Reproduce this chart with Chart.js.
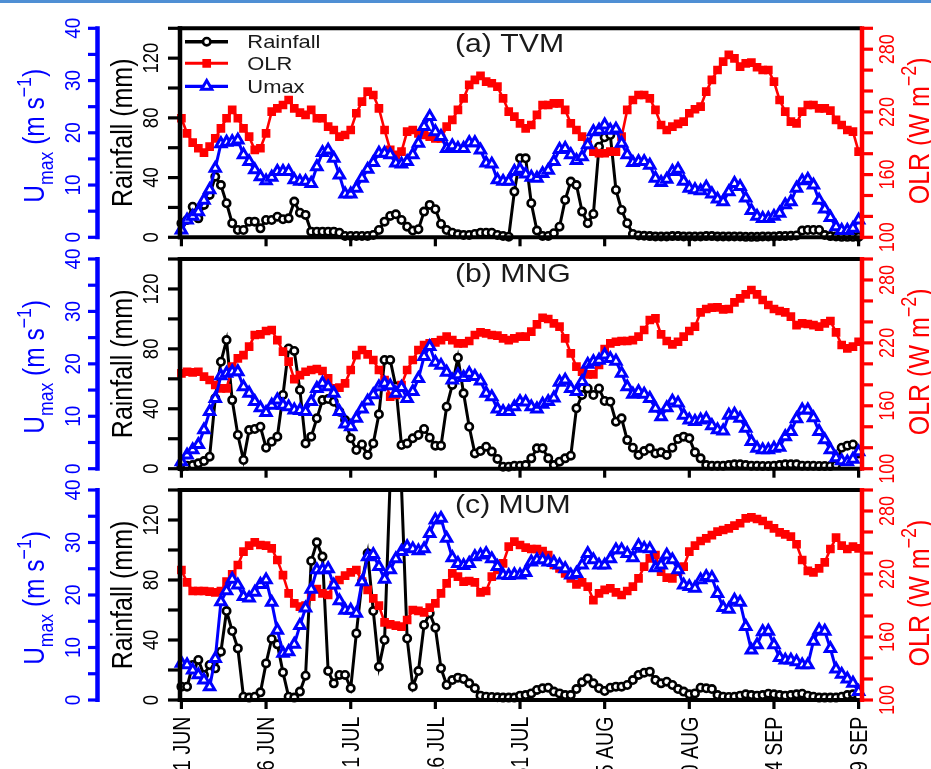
<!DOCTYPE html>
<html>
<head>
<meta charset="utf-8">
<script src="https://cdn.jsdelivr.net/npm/chart.js@4.4.1/dist/chart.umd.min.js"></script>
<style>
  html, body { margin: 0; padding: 0; background: #fff; }
  #wrap { position: relative; width: 931px; height: 769px; overflow: hidden; background: #fff; }
  #wrap canvas { position: absolute; left: 0; top: 0; }
  #topline { position: absolute; left: 0; top: 0; width: 931px; height: 3px; background: #4f8fd4; }
</style>
</head>
<body>
<div id="wrap">
  <div id="topline"></div>
  <canvas id="pa" width="931" height="769" style="width:931px;height:769px"></canvas>
  <canvas id="pb" width="931" height="769" style="width:931px;height:769px"></canvas>
  <canvas id="pc" width="931" height="769" style="width:931px;height:769px"></canvas>
</div>
<script>
// daily values, 1 JUN (index 0) .. 29 SEP (index 120)
const xTickDays = [0, 15, 30, 45, 60, 75, 90, 105, 120]
const xTickLabels = ['1 JUN', '16 JUN', '1 JUL', '16 JUL', '31 JUL', '15 AUG', '30 AUG', '14 SEP', '29 SEP']

const rainTicks = [0, 20, 40, 60, 80, 100, 120, 140]
const rainLabels = [0, 40, 80, 120]
const umaxTicks = [0, 5, 10, 15, 20, 25, 30, 35, 40]
const umaxLabels = [0, 10, 20, 30, 40]
const olrTicks = [100, 120, 140, 160, 180, 200, 220, 240, 260, 280, 300]
const olrLabels = [100, 160, 220, 280]

const tvmRain = [
  9.4, 11.6, 20.5, 12.7, 21.7, 28.4, 40.6, 35.0, 22.8, 9.4,
  4.9, 4.9, 10.5, 10.5, 6.0, 11.6, 11.6, 13.8, 12.1, 12.7,
  23.9, 16.5, 15.0, 3.8, 3.8, 3.8, 3.8, 3.8, 3.1, 0.9,
  0.9, 0.9, 0.9, 0.9, 1.6, 4.9, 10.5, 14.3, 15.4, 11.6,
  7.1, 4.5, 5.4, 17.2, 21.7, 18.8, 8.9, 4.9, 3.1, 2.0,
  1.6, 1.6, 2.2, 3.1, 3.1, 3.1, 1.6, 0.9, 0.4, 30.6,
  52.9, 52.9, 22.8, 4.5, 0.9, 0.9, 2.7, 7.1, 25.0, 37.3,
  35.0, 17.2, 9.4, 15.6, 60.7, 67.0, 68.5, 31.7, 18.3, 9.4,
  2.2, 1.2, 1.0, 0.8, 0.5, 0.5, 0.5, 0.8, 0.8, 0.5,
  0.5, 0.5, 0.5, 0.8, 0.8, 0.5, 0.5, 0.5, 0.5, 0.5,
  0.3, 0.3, 0.3, 0.5, 0.5, 0.5, 0.8, 0.8, 1.0, 1.2,
  4.5, 4.9, 4.9, 4.9, 1.5, 0.8, 0.5, 0.3, 0.3, 0.3,
  0.3
]
const tvmOlr = [
  213.9, 199.5, 190.6, 185.2, 181.0, 186.8, 194.7, 204.3, 213.9, 221.9,
  213.9, 204.3, 196.3, 183.6, 185.2, 199.5, 220.3, 223.4, 226.6, 231.4,
  223.4, 219.3, 217.1, 221.9, 213.9, 213.9, 205.9, 202.7, 196.3, 197.9,
  202.7, 218.7, 229.8, 239.4, 236.2, 223.4, 202.7, 183.6, 178.8, 182.0,
  201.1, 202.7, 199.5, 197.9, 196.3, 194.7, 194.7, 205.9, 212.3, 221.9,
  233.0, 245.8, 250.6, 254.4, 249.0, 247.4, 244.2, 233.0, 220.3, 215.5,
  209.1, 204.3, 207.5, 217.1, 226.6, 226.6, 228.2, 228.2, 221.9, 209.1,
  202.7, 196.3, 188.4, 182.0, 180.4, 180.4, 182.0, 182.0, 196.3, 221.9,
  231.4, 236.2, 236.2, 233.0, 221.9, 207.5, 202.7, 205.9, 208.5, 210.7,
  218.7, 222.5, 225.0, 239.4, 250.6, 260.1, 268.1, 274.5, 271.3, 263.3,
  266.5, 267.1, 262.7, 260.1, 260.1, 249.0, 231.4, 220.3, 210.7, 209.1,
  220.3, 226.6, 226.6, 223.4, 223.4, 221.2, 212.3, 207.5, 202.7, 201.1,
  182.0
]
const tvmUmax = [
  1.4, 3.3, 4.0, 4.9, 7.1, 9.1, 13.2, 17.9, 18.2, 18.3,
  18.6, 15.8, 14.5, 12.9, 11.6, 10.8, 11.5, 12.6, 12.6, 12.6,
  11.0, 10.7, 10.7, 10.3, 13.5, 16.2, 16.7, 15.1, 11.9, 8.3,
  8.3, 9.4, 11.3, 13.0, 14.3, 16.1, 16.1, 15.8, 14.2, 14.0,
  14.5, 15.8, 18.0, 21.2, 23.1, 20.2, 19.3, 17.0, 17.5, 17.0,
  17.0, 18.1, 18.1, 16.7, 14.2, 14.0, 11.0, 10.7, 10.7, 12.6,
  13.0, 12.1, 11.5, 11.3, 12.2, 12.8, 14.5, 16.8, 17.0, 15.8,
  14.7, 15.4, 17.7, 20.2, 20.5, 21.5, 20.5, 20.7, 18.0, 15.8,
  14.3, 14.5, 14.5, 13.8, 11.3, 10.5, 11.1, 12.6, 13.0, 10.7,
  9.4, 9.1, 8.9, 9.6, 8.3, 7.3, 6.8, 8.7, 10.3, 9.7,
  7.5, 5.1, 4.0, 3.6, 3.6, 4.0, 4.6, 6.2, 6.8, 9.4,
  10.8, 11.1, 10.0, 7.1, 5.4, 3.8, 2.0, 1.3, 1.3, 1.7,
  3.3
]

const mngRain = [
  1.3, 2.0, 2.4, 3.6, 5.1, 8.0, 47.0, 71.4, 85.9, 45.8,
  22.5, 5.8, 25.8, 26.5, 28.0, 14.0, 18.0, 21.4, 49.2, 80.3,
  78.6, 52.5, 16.9, 21.4, 33.6, 45.8, 46.5, 44.7, 38.1, 32.5,
  20.3, 12.5, 16.2, 9.1, 16.9, 36.3, 72.6, 72.6, 54.8, 15.8,
  16.9, 20.3, 22.5, 26.5, 20.7, 15.4, 15.4, 41.4, 55.9, 74.1,
  50.3, 28.0, 10.2, 11.8, 14.7, 11.4, 6.5, 1.3, 1.3, 2.0,
  2.0, 2.4, 6.9, 13.6, 13.6, 6.9, 2.4, 4.7, 6.9, 8.7,
  40.3, 49.2, 53.6, 49.2, 53.6, 45.2, 44.7, 31.4, 33.6, 19.1,
  14.0, 9.1, 11.8, 13.6, 10.2, 10.9, 9.1, 14.0, 19.8, 21.4,
  20.3, 10.9, 6.9, 2.4, 2.0, 2.0, 2.0, 2.4, 2.9, 2.9,
  2.4, 2.0, 2.0, 1.8, 1.8, 2.0, 2.4, 2.9, 2.9, 2.9,
  2.0, 2.0, 2.0, 1.8, 1.8, 1.8, 2.4, 14.0, 15.4, 16.2,
  10.2
]
const mngOlr = [
  190.9, 192.5, 191.9, 192.5, 187.8, 184.6, 179.8, 176.6, 176.6, 197.3,
  205.2, 208.4, 216.4, 227.5, 228.1, 231.3, 232.3, 222.7, 211.6, 202.1,
  185.5, 189.3, 192.5, 194.1, 195.1, 193.2, 186.2, 176.6, 177.3, 181.4,
  194.1, 208.4, 213.2, 209.1, 203.7, 194.1, 184.6, 168.7, 170.3, 179.8,
  194.1, 203.7, 213.2, 218.0, 219.6, 220.5, 222.7, 225.9, 222.7, 219.6,
  219.6, 221.8, 227.5, 230.0, 229.1, 227.5, 226.9, 224.3, 222.7, 224.3,
  225.9, 225.9, 230.7, 237.7, 244.0, 242.8, 238.6, 235.5, 224.3, 210.0,
  197.3, 192.5, 190.0, 190.0, 198.9, 214.1, 219.6, 221.1, 221.8, 221.8,
  222.7, 225.9, 232.3, 241.8, 243.4, 228.1, 221.8, 218.6, 221.1, 225.9,
  231.3, 235.5, 249.1, 252.3, 253.6, 253.9, 252.0, 252.3, 258.7, 262.5,
  266.3, 270.4, 266.3, 260.9, 256.1, 252.3, 250.4, 249.1, 245.0, 237.0,
  238.6, 238.0, 237.0, 235.5, 238.6, 240.9, 230.0, 218.0, 214.8, 216.4,
  221.1
]
const mngUmax = [
  1.3, 2.6, 3.6, 4.6, 7.4, 10.9, 13.4, 17.7, 18.2, 18.5,
  18.5, 15.6, 14.4, 12.8, 11.6, 10.7, 12.1, 13.1, 12.1, 11.8,
  11.2, 11.1, 10.9, 12.8, 15.3, 16.3, 15.6, 14.4, 10.9, 8.5,
  8.0, 9.6, 11.4, 12.9, 14.1, 15.6, 16.3, 15.8, 14.4, 15.5,
  13.4, 14.7, 17.2, 21.4, 23.3, 20.3, 19.7, 18.4, 16.9, 17.9,
  17.4, 18.2, 17.6, 16.7, 14.4, 13.7, 11.4, 10.9, 10.9, 11.8,
  12.8, 12.7, 11.8, 11.4, 12.3, 12.8, 13.5, 16.5, 16.9, 15.3,
  14.7, 16.6, 19.9, 20.4, 20.7, 21.7, 21.0, 20.5, 18.2, 15.6,
  14.2, 14.7, 14.2, 13.4, 11.5, 9.9, 11.6, 12.9, 12.5, 10.2,
  9.3, 9.0, 9.3, 9.5, 8.2, 7.4, 7.2, 10.2, 10.4, 9.6,
  7.7, 5.2, 3.9, 3.6, 3.6, 3.9, 4.1, 6.1, 7.1, 9.5,
  11.2, 11.2, 9.7, 7.1, 5.5, 3.6, 2.1, 1.5, 1.3, 1.8,
  3.2
]

const mumRain = [
  8.9, 8.9, 23.3, 26.7, 16.7, 23.3, 21.1, 32.2, 59.3, 46.0,
  34.4, 2.2, 1.6, 2.2, 5.1, 24.4, 40.7, 37.1, 18.4, 2.2,
  1.6, 5.6, 16.2, 92.7, 105.1, 95.6, 19.3, 11.1, 16.7, 16.7,
  7.8, 44.4, 78.9, 97.8, 59.3, 22.2, 40.0, 148.0, 150.0, 142.0,
  41.0, 8.9, 19.3, 50.0, 57.8, 48.2, 21.1, 10.0, 13.3, 14.9,
  14.0, 11.1, 7.8, 2.9, 2.2, 2.0, 1.8, 1.6, 1.6, 1.6,
  2.9, 3.3, 4.4, 6.7, 7.8, 8.2, 5.6, 4.4, 3.3, 3.3,
  7.3, 11.8, 14.4, 11.1, 7.8, 6.0, 8.2, 8.9, 8.9, 10.0,
  13.3, 16.7, 18.2, 18.9, 13.3, 11.1, 12.2, 10.0, 7.3, 5.6,
  3.8, 4.4, 8.2, 7.8, 7.3, 3.3, 2.2, 2.0, 2.2, 2.9,
  3.8, 3.3, 2.9, 3.3, 4.2, 3.8, 3.3, 2.9, 3.3, 3.8,
  4.2, 2.9, 2.2, 1.6, 1.6, 1.6, 1.6, 2.2, 3.3, 3.8,
  2.2
]
const mumOlr = [
  223.8, 212.1, 203.8, 203.8, 203.8, 203.2, 202.5, 203.8, 212.7, 219.7,
  228.6, 241.3, 247.0, 250.2, 247.6, 247.0, 244.4, 233.3, 219.0, 201.6,
  192.1, 188.9, 189.8, 198.4, 205.7, 201.6, 200.0, 209.5, 214.3, 218.4,
  221.6, 223.8, 212.7, 204.8, 196.8, 189.8, 174.0, 172.1, 170.8, 169.8,
  176.2, 185.7, 184.8, 183.5, 187.9, 192.1, 201.6, 211.1, 220.6, 217.5,
  212.7, 213.3, 212.1, 202.5, 203.8, 217.5, 223.8, 230.2, 246.0, 250.8,
  247.6, 245.1, 243.8, 243.8, 241.9, 238.1, 228.6, 225.4, 220.6, 215.9,
  210.2, 212.1, 208.0, 195.2, 201.6, 204.8, 206.3, 202.5, 200.0, 203.8,
  208.0, 215.9, 227.0, 234.9, 238.1, 222.2, 216.5, 215.9, 222.2, 227.0,
  241.3, 247.0, 251.4, 254.0, 257.1, 260.3, 261.9, 263.5, 266.0, 268.3,
  273.0, 274.0, 272.4, 270.5, 266.7, 263.5, 259.7, 257.8, 255.6, 248.3,
  233.3, 222.9, 221.6, 225.4, 231.1, 243.8, 254.6, 247.0, 243.8, 246.0,
  244.4
]
const mumUmax = [
  7.0, 6.7, 5.7, 4.8, 3.8, 2.5, 7.9, 18.7, 20.8, 23.0,
  21.9, 19.7, 19.4, 20.5, 22.0, 22.9, 18.6, 13.3, 8.9, 9.2,
  10.6, 14.2, 17.5, 21.1, 24.8, 24.8, 25.0, 21.9, 18.9, 17.1,
  17.1, 16.5, 22.5, 27.3, 27.7, 25.4, 23.0, 24.8, 26.9, 28.3,
  29.2, 28.8, 28.4, 28.8, 31.7, 34.3, 34.6, 30.8, 27.1, 26.0,
  25.6, 26.0, 27.3, 27.6, 27.9, 26.9, 25.4, 23.8, 23.7, 23.9,
  23.8, 24.3, 26.3, 26.7, 26.7, 26.3, 26.2, 25.7, 25.0, 23.8,
  24.1, 25.7, 27.9, 26.7, 25.7, 25.7, 26.9, 28.6, 28.6, 27.9,
  27.1, 29.4, 28.9, 28.8, 25.2, 25.7, 27.6, 26.7, 24.8, 21.9,
  21.6, 21.3, 22.9, 23.5, 23.3, 20.3, 17.6, 17.3, 19.0, 18.6,
  14.0, 9.5, 10.5, 13.0, 13.1, 10.5, 8.1, 7.6, 7.6, 7.3,
  6.7, 6.7, 11.2, 13.3, 13.1, 9.8, 5.9, 4.9, 4.0, 3.2,
  1.6
]

const W = 931, H = 769
const PLOT_L = 180, PLOT_R = 862
const SX = 1.18 // text in the figure is drawn slightly wide
const FONT = '"Liberation Sans", Arial, Helvetica, sans-serif'
const CLIP = { left: 10, right: 10, top: 0, bottom: 10 }

const panels = [
  { id: 'pa', title: '(a) TVM', top: 28.3, bottom: 237.3, rain: tvmRain, olr: tvmOlr, umax: tvmUmax, legend: true },
  { id: 'pb', title: '(b) MNG', top: 259, bottom: 468.7, rain: mngRain, olr: mngOlr, umax: mngUmax },
  { id: 'pc', title: '(c) MUM', top: 490, bottom: 700, rain: mumRain, olr: mumOlr, umax: mumUmax, xLabels: true },
]

const styles = {
  rain: { color: '#000000', pointStyle: 'circle', radius: 3.7, bw: 2.6, fill: '#ffffff', lw: 3 },
  olr: { color: '#ff0000', pointStyle: 'rect', radius: 5, bw: 1.6, fill: '#ff0000', lw: 2.6 },
  umax: { color: '#0000ff', pointStyle: 'triangle', radius: 5.9, bw: 3, fill: '#ffffff', lw: 3 },
}

function toXY(arr) {
  return arr.map((v, i) => ({ x: i, y: v }))
}

function seg(ctx, x1, y1, x2, y2, color, w) {
  ctx.beginPath()
  ctx.moveTo(x1, y1)
  ctx.lineTo(x2, y2)
  ctx.strokeStyle = color
  ctx.lineWidth = w
  ctx.stroke()
}

function hText(ctx, str, x, y, size, color) {
  ctx.save()
  ctx.translate(x, y)
  ctx.scale(SX, 1)
  ctx.font = size + 'px ' + FONT
  ctx.fillStyle = color
  ctx.textAlign = 'left'
  ctx.textBaseline = 'alphabetic'
  ctx.fillText(str, 0, 0)
  ctx.restore()
}

// text turned to read bottom to top; parts are [text, size factor, baseline shift]
function vText(ctx, parts, cx, cy, size, color, align) {
  ctx.save()
  ctx.translate(cx, cy)
  ctx.scale(SX, 1)
  ctx.rotate(-Math.PI / 2)
  ctx.fillStyle = color
  ctx.textAlign = 'left'
  ctx.textBaseline = 'alphabetic'
  let total = 0
  parts.forEach((p) => {
    ctx.font = size * p[1] + 'px ' + FONT
    total += ctx.measureText(p[0]).width
  })
  let x = align === 'center' ? -total / 2 : align === 'right' ? -total : 0
  parts.forEach((p) => {
    ctx.font = size * p[1] + 'px ' + FONT
    ctx.fillText(p[0], x, 0.358 * size + p[2] * size)
    x += ctx.measureText(p[0]).width
  })
  ctx.restore()
}

function marker(ctx, st, x, y) {
  ctx.save()
  ctx.lineWidth = st.bw
  ctx.strokeStyle = st.color
  ctx.fillStyle = st.fill
  Chart.helpers.drawPoint(ctx, { pointStyle: st.pointStyle, radius: st.radius, borderWidth: st.bw, rotation: 0 }, x, y)
  ctx.restore()
}

function drawDecor(chart, p) {
  const ctx = chart.ctx
  const sc = chart.scales
  const top = chart.chartArea.top
  const bot = chart.chartArea.bottom
  const mid = (top + bot) / 2
  ctx.save()
  ctx.lineCap = 'butt'

  // x ticks and frame
  xTickDays.forEach((d) => {
    const x = sc.x.getPixelForValue(d)
    seg(ctx, x, bot, x, bot + 9, '#000', 3.2)
  })
  seg(ctx, PLOT_L - 2.2, top, PLOT_R, top, '#000', 4)
  seg(ctx, PLOT_L - 2.2, bot, PLOT_R, bot, '#000', 4)

  // rainfall axis
  seg(ctx, PLOT_L, top - 2, PLOT_L, bot + 2, '#000', 4.5)
  rainTicks.forEach((v) => {
    const y = sc.yR.getPixelForValue(v)
    seg(ctx, PLOT_L - 12, y, PLOT_L, y, '#000', 3.2)
  })
  rainLabels.forEach((v) => vText(ctx, [[String(v), 1, 0]], 150, sc.yR.getPixelForValue(v), 18.5, '#000', 'center'))
  vText(ctx, [['Rainfall (mm)', 1, 0]], 121.7, mid, 25, '#000', 'center')

  // Umax axis
  const ux = 97.5
  seg(ctx, ux, top - 2, ux, bot + 2, '#0000ff', 4.5)
  umaxTicks.forEach((v) => {
    const y = sc.yU.getPixelForValue(v)
    seg(ctx, ux - 9.5, y, ux, y, '#0000ff', 3.2)
  })
  umaxLabels.forEach((v) => vText(ctx, [[String(v), 1, 0]], 71.7, sc.yU.getPixelForValue(v), 19, '#0000ff', 'center'))
  vText(ctx, [['U', 1, 0], ['max', 0.72, 0.3], [' (m s', 1, 0], ['\u22121', 0.72, -0.45], [')', 1, 0]],
    34, mid + 3, 24.5, '#0000ff', 'center')

  // OLR axis
  seg(ctx, PLOT_R, top - 2, PLOT_R, bot + 2, '#ff0000', 4.5)
  olrTicks.forEach((v) => {
    const y = sc.yO.getPixelForValue(v)
    seg(ctx, PLOT_R, y, PLOT_R + 11, y, '#ff0000', 3.2)
  })
  olrLabels.forEach((v) => vText(ctx, [[String(v), 1, 0]], 886.7, sc.yO.getPixelForValue(v), 18, '#ff0000', 'center'))
  vText(ctx, [['OLR (W m', 1, 0], ['\u22122', 0.72, -0.45], [')', 1, 0]], 918.3, mid - 2, 25, '#ff0000', 'center')

  // panel title
  hText(ctx, p.title, 455, top + 23.3, 25.6, '#1a1a1a')

  if (p.legend) {
    const rows = [
      ['Rainfall', styles.rain, 41.7],
      ['OLR', styles.olr, 63.3],
      ['Umax', styles.umax, 86.4],
    ]
    rows.forEach((r) => {
      seg(ctx, 185, r[2], 228, r[2], r[1].color, r[1].lw + 0.4)
      marker(ctx, r[1], 206.7, r[2])
      hText(ctx, r[0], 247.3, r[2] + 6.6, 18.6, '#1a1a1a')
    })
  }

  if (p.xLabels) {
    xTickDays.forEach((d, i) => {
      vText(ctx, [[xTickLabels[i], 1, 0]], sc.x.getPixelForValue(d), 716.7, 19.5, '#000', 'right')
    })
  }
  ctx.restore()
}

function dataset(label, values, st, axis) {
  return {
    label: label,
    yAxisID: axis,
    data: toXY(values),
    borderColor: st.color,
    borderWidth: st.lw,
    backgroundColor: st.fill,
    pointStyle: st.pointStyle,
    pointRadius: st.radius,
    pointBorderWidth: st.bw,
    pointBorderColor: st.color,
    pointBackgroundColor: st.fill,
    tension: 0,
    fill: false,
    clip: CLIP,
  }
}

panels.forEach((p) => {
  new Chart(document.getElementById(p.id), {
    type: 'line',
    data: {
      datasets: [
        dataset('Umax', p.umax, styles.umax, 'yU'),
        dataset('OLR', p.olr, styles.olr, 'yO'),
        dataset('Rainfall', p.rain, styles.rain, 'yR'),
      ],
    },
    options: {
      responsive: false,
      animation: false,
      events: [],
      layout: { padding: { left: PLOT_L, right: W - PLOT_R, top: p.top, bottom: H - p.bottom } },
      plugins: { legend: { display: false }, tooltip: { enabled: false } },
      scales: {
        x: { type: 'linear', display: false, min: -0.25, max: 120.6 },
        yR: { type: 'linear', display: false, min: 0, max: 140 },
        yU: { type: 'linear', display: false, min: 0, max: 40 },
        yO: { type: 'linear', display: false, min: 100, max: 300 },
      },
    },
    plugins: [{ id: 'decor', afterDatasetsDraw: (chart) => drawDecor(chart, p) }],
  })
})
</script>
</body>
</html>
